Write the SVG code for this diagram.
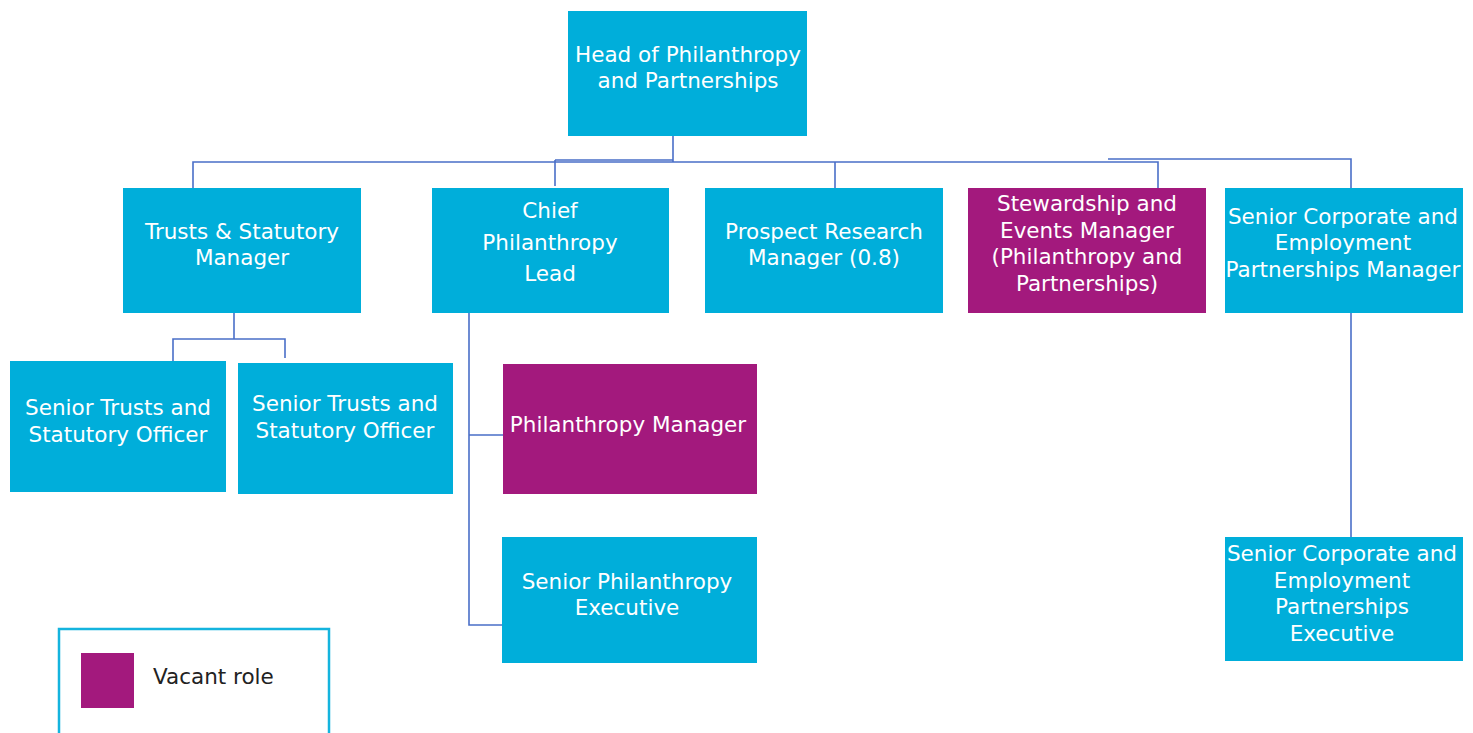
<svg xmlns="http://www.w3.org/2000/svg" width="1473" height="733" viewBox="0 0 1473 733">
<style>
.c{fill:#00AEDA}
.v{fill:#A3197D}
text{font-family:"DejaVu Sans","Liberation Sans",sans-serif;font-size:21.5px;fill:#fff;text-anchor:middle}
.ln{fill:none;stroke:#4A6FC8;stroke-width:1.6}
.lg{fill:#222;text-anchor:start}
</style>
<rect width="1473" height="733" fill="#fff"/>
<g id="connectors" class="ln">
<path d="M673 136V162M193 188V162H1158V188M555 160H673M555 160V186M835 162V188M1108 159H1351V188"/>
<path d="M234 313V339M173 361V339H285V358"/>
<path d="M469 313V625H510M469 435H503"/>
<path d="M1351 313V537"/>
</g>
<g id="head"><rect class="c" x="568" y="11" width="239" height="125"/><text x="688" y="62">Head of Philanthropy</text><text x="688" y="88">and Partnerships</text></g>
<g id="trusts-manager"><rect class="c" x="123" y="188" width="238" height="125"/><text x="242" y="239">Trusts &amp; Statutory</text><text x="242" y="265">Manager</text></g>
<g id="chief-lead"><rect class="c" x="432" y="188" width="237" height="125"/><text x="550" y="218">Chief</text><text x="550" y="250">Philanthropy</text><text x="550" y="281">Lead</text></g>
<g id="prospect"><rect class="c" x="705" y="188" width="238" height="125"/><text x="824" y="239">Prospect Research</text><text x="824" y="265">Manager (0.8)</text></g>
<g id="stewardship"><rect class="v" x="968" y="188" width="238" height="125"/><text x="1087" y="211">Stewardship and</text><text x="1087" y="238">Events Manager</text><text x="1087" y="264">(Philanthropy and</text><text x="1087" y="291">Partnerships)</text></g>
<g id="corp-manager"><rect class="c" x="1225" y="188" width="238" height="125"/><text x="1343" y="224">Senior Corporate and</text><text x="1343" y="250">Employment</text><text x="1343" y="277">Partnerships Manager</text></g>
<g id="trusts-officer-1"><rect class="c" x="10" y="361" width="216" height="131"/><text x="118" y="415">Senior Trusts and</text><text x="118" y="442">Statutory Officer</text></g>
<g id="trusts-officer-2"><rect class="c" x="238" y="363" width="215" height="131"/><text x="345" y="411">Senior Trusts and</text><text x="345" y="438">Statutory Officer</text></g>
<g id="philanthropy-manager"><rect class="v" x="503" y="364" width="254" height="130"/><text x="628" y="432">Philanthropy Manager</text></g>
<g id="senior-phil-exec"><rect class="c" x="502" y="537" width="255" height="126"/><text x="627" y="589">Senior Philanthropy</text><text x="627" y="615">Executive</text></g>
<g id="corp-exec"><rect class="c" x="1225" y="537" width="238" height="124"/><text x="1342" y="561">Senior Corporate and</text><text x="1342" y="588">Employment</text><text x="1342" y="614">Partnerships</text><text x="1342" y="641">Executive</text></g>
<g id="legend"><rect x="59" y="629" width="270" height="115" fill="#fff" stroke="#14B4DE" stroke-width="2.5"/><rect class="v" x="81" y="653" width="53" height="55"/><text class="lg" x="153" y="684">Vacant role</text></g>
</svg>
